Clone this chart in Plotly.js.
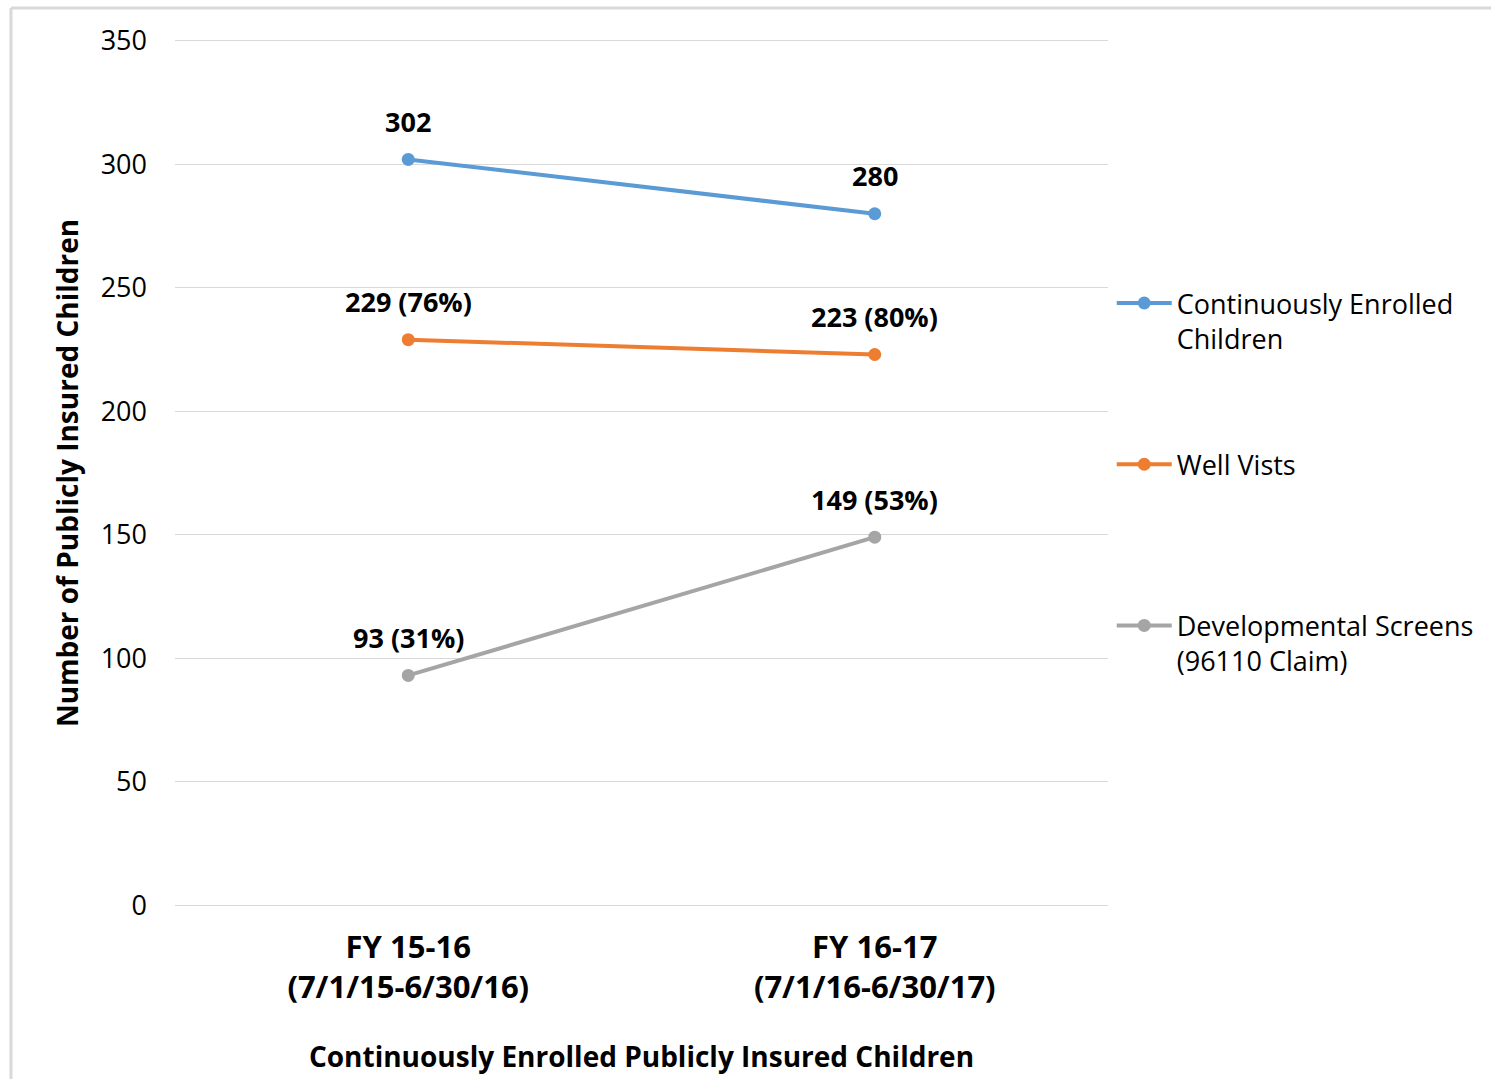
<!DOCTYPE html>
<html>
<head>
<meta charset="utf-8">
<script src="https://cdn.plot.ly/plotly-3.0.1.min.js"></script>
<style>html,body{margin:0;padding:0;background:#fff;}#chart{width:1491px;height:1079px;}</style>
</head>
<body>
<div id="chart"></div>
<script>
var categories = ["FY 15-16<br>(7/1/15-6/30/16)", "FY 16-17<br>(7/1/16-6/30/17)"];
var enrolled = [302, 280];
var wellVisits = [229, 223];
var wellPct = ["76%", "80%"];
var devScreens = [93, 149];
var devPct = ["31%", "53%"];
var seriesNames = ["Continuously Enrolled<br>Children", "Well Vists<br> ", "Developmental Screens<br>(96110 Claim)"];
var colors = ["#5B9BD5", "#ED7D31", "#A5A5A5"];
var yTicks = [0, 50, 100, 150, 200, 250, 300, 350];

var FONT = "Open Sans, Noto Sans, sans-serif";

function mk(y, i) {
  return {
    x: categories, y: y, type: "scatter", mode: "lines+markers",
    name: seriesNames[i], legendgroup: "g" + i,
    line: {color: colors[i], width: 4},
    marker: {color: colors[i], size: 13},
    hoverinfo: "skip"
  };
}
var traces = [mk(enrolled, 0), mk(wellVisits, 1), mk(devScreens, 2)];

var annotations = [];
function lab(x, y, t) {
  annotations.push({x: x, y: y, xref: "x", yref: "y", text: t, showarrow: false,
    yshift: 38, yanchor: "middle", font: {family: FONT, size: 27, color: "#000", weight: "bold"}});
}
for (var k = 0; k < categories.length; k++) {
  lab(categories[k], enrolled[k], String(enrolled[k]));
  lab(categories[k], wellVisits[k], wellVisits[k] + " (" + wellPct[k] + ")");
  lab(categories[k], devScreens[k], devScreens[k] + " (" + devPct[k] + ")");
}

// paper coordinates computed for plot area top=36, bottom=910 (874px tall)
var layout = {
  width: 1491, height: 1079,
  margin: {l: 175, r: 383, t: 36, b: 169},
  paper_bgcolor: "#fff", plot_bgcolor: "#fff",
  font: {family: FONT, color: "#000"},
  showlegend: true,
  legend: {x: 1.004, xanchor: "left", y: 0.722, yanchor: "top", valign: "top",
    tracegroupgap: 88, font: {family: FONT, size: 27, color: "#000"},
    bgcolor: "rgba(0,0,0,0)", itemwidth: 55},
  xaxis: {type: "category", range: [-0.5, 1.5], showgrid: false, zeroline: false, showline: false,
    ticks: "", ticklabelstandoff: 16,
    tickfont: {family: FONT, size: 31, color: "#000", weight: "bold"},
    title: {text: "Continuously Enrolled Publicly Insured Children", standoff: 41,
      font: {family: FONT, size: 28, color: "#000", weight: "bold"}}},
  yaxis: {range: [-2, 352], tickvals: yTicks, ticktext: yTicks.map(String),
    showgrid: true, gridcolor: "#D9D9D9", gridwidth: 1, zeroline: false, showline: false,
    ticks: "", ticklabelstandoff: 27,
    tickfont: {family: FONT, size: 27, color: "#000"},
    title: {text: "Number of Publicly Insured Children", standoff: 13,
      font: {family: FONT, size: 28, color: "#000", weight: "bold"}}},
  annotations: annotations,
  shapes: [
    {type: "line", xref: "paper", yref: "paper", x0: -0.1758, x1: -0.1758, y0: 1.032, y1: -0.25,
      line: {color: "#D9D9D9", width: 3}},
    {type: "line", xref: "paper", yref: "paper", x0: -0.1758, x1: 1.42, y0: 1.032, y1: 1.032,
      line: {color: "#D9D9D9", width: 3}}
  ]
};
Plotly.newPlot("chart", traces, layout, {displayModeBar: false, staticPlot: true});
</script>
</body>
</html>
